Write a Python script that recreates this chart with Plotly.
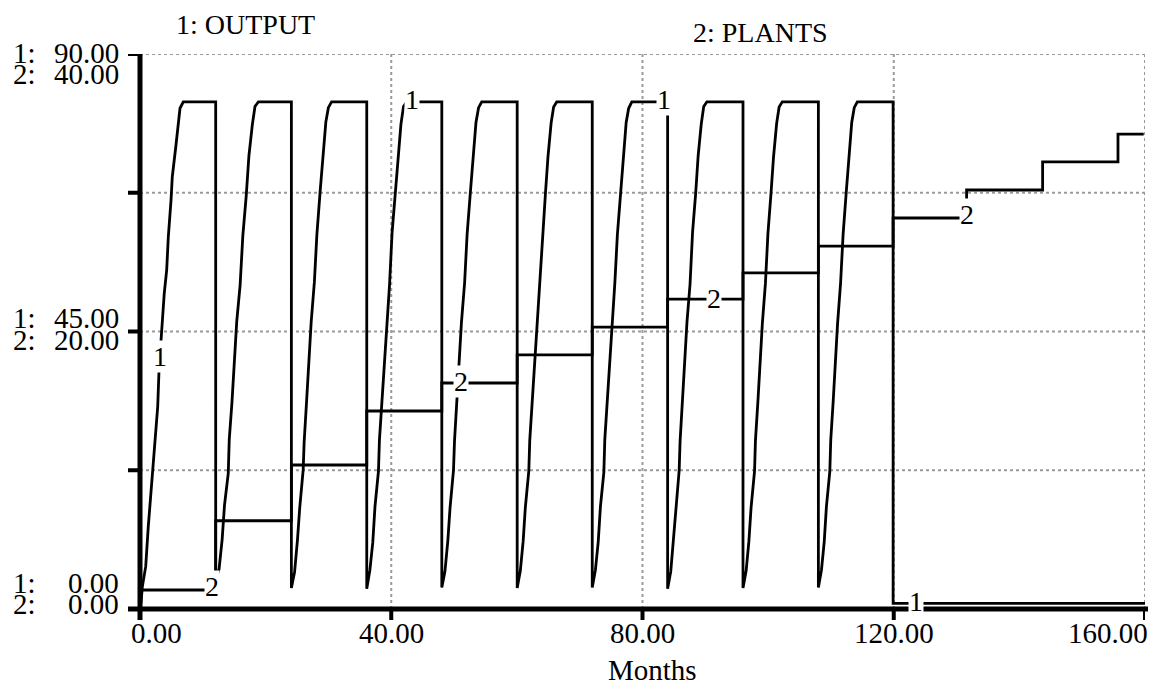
import plotly.graph_objects as go

# ---------------- data ----------------
month_ticks = [0, 40, 80, 120, 160]
month_tick_labels = ["0.00", "40.00", "80.00", "120.00", "160.00"]
output_axis_labels = ["0.00", "45.00", "90.00"]
plants_axis_labels = ["0.00", "20.00", "40.00"]

# OUTPUT: ramp of each production cycle (months, value)
cycle1_t = [0.0, 0.16, 0.37, 0.91, 1.32, 1.86, 2.28, 2.82, 3.03, 3.55, 3.86, 4.25, 4.51, 4.94, 5.14, 5.68, 6.10, 6.37, 6.89]
cycle1_v = [0.5, 1.0, 3.6, 6.9, 13.4, 20.9, 25.8, 32.8, 38.8, 46.4, 51.2, 55.0, 60.4, 66.3, 70.1, 74.8, 79.0, 81.2, 82.25]
cycle2_t = [12.05, 12.59, 13.08, 13.45, 14.05, 14.21, 14.64, 15.02, 15.40, 15.94, 16.37, 16.91, 17.34, 17.88, 18.31, 18.85]
cycle2_v = [4.5, 6.5, 11.3, 16.8, 22.0, 27.5, 33.5, 40.0, 46.6, 52.5, 60.5, 67.0, 73.5, 78.5, 81.5, 82.25]
cycle3_t = [24.10, 24.61, 25.07, 25.42, 25.98, 26.13, 26.54, 26.89, 27.25, 27.76, 28.16, 28.67, 29.08, 29.59, 29.99, 30.50]
cycle3_v = [3.4, 6.0, 11.2, 16.3, 22.6, 27.0, 34.0, 40.1, 46.5, 53.0, 60.7, 67.6, 73.0, 79.0, 81.3, 82.25]
cycle4_t = [36.10, 36.60, 37.06, 37.41, 37.96, 38.12, 38.52, 38.87, 39.22, 39.73, 40.13, 40.64, 41.04, 41.54, 41.95, 42.45]
cycle4_v = [3.3, 6.3, 10.8, 16.6, 22.3, 27.4, 33.6, 40.5, 46.2, 52.6, 61.0, 67.2, 73.4, 78.6, 81.5, 82.25]
cycle5_t = [48.05, 48.55, 49.01, 49.36, 49.91, 50.07, 50.47, 50.82, 51.17, 51.68, 52.08, 52.59, 52.99, 53.49, 53.90, 54.40]
cycle5_v = [3.5, 6.1, 11.1, 16.4, 22.5, 27.2, 33.9, 40.2, 46.4, 52.9, 60.8, 67.5, 73.2, 78.9, 81.3, 82.25]
cycle6_t = [60.05, 60.55, 61.00, 61.35, 61.90, 62.05, 62.45, 62.80, 63.15, 63.65, 64.05, 64.55, 64.95, 65.45, 65.85, 66.35]
cycle6_v = [3.4, 6.2, 11.0, 16.5, 22.4, 27.3, 33.8, 40.3, 46.3, 52.8, 60.9, 67.4, 73.3, 78.8, 81.4, 82.25]
cycle7_t = [72.00, 72.50, 72.95, 73.30, 73.85, 74.00, 74.40, 74.75, 75.10, 75.60, 76.00, 76.50, 76.90, 77.40, 77.80, 78.30]
cycle7_v = [3.5, 6.3, 10.9, 16.6, 22.2, 27.5, 33.7, 40.4, 46.1, 52.9, 60.7, 67.6, 73.1, 78.9, 81.2, 82.25]
cycle8_t = [84.00, 84.50, 84.94, 85.29, 85.84, 85.98, 86.38, 86.73, 87.08, 87.57, 87.97, 88.46, 88.86, 89.36, 89.75, 90.25]
cycle8_v = [3.3, 6.1, 11.2, 16.3, 22.5, 27.1, 34.0, 40.2, 46.5, 52.7, 61.1, 67.3, 73.5, 78.7, 81.5, 82.25]
cycle9_t = [96.00, 96.50, 96.94, 97.29, 97.84, 97.98, 98.38, 98.73, 99.08, 99.57, 99.97, 100.46, 100.86, 101.36, 101.75, 102.25]
cycle9_v = [3.4, 6.2, 11.0, 16.5, 22.4, 27.3, 33.8, 40.3, 46.3, 52.8, 60.9, 67.4, 73.3, 78.8, 81.4, 82.25]
cycle10_t = [108.00, 108.49, 108.93, 109.28, 109.82, 109.97, 110.36, 110.71, 111.05, 111.54, 111.94, 112.43, 112.82, 113.31, 113.71, 114.20]
cycle10_v = [3.5, 6.3, 10.9, 16.6, 22.3, 27.4, 33.7, 40.4, 46.2, 52.9, 60.8, 67.5, 73.2, 78.9, 81.3, 82.25]
# end of each plateau (output falls) and the idle tail after month 120
plateau_end_t = [12.05, 24.10, 36.10, 48.05, 60.05, 72.00, 84.00, 96.00, 108.00, 119.9]
plateau_v = 82.25
tail_t = [119.9, 160.0]
tail_v = [0.9, 0.9]

# PLANTS: step changes (month, plants)
plants_t = [0, 12.05, 24.1, 36.1, 48.05, 60.05, 72.0, 84.0, 96.0, 108.0, 119.9, 131.6, 143.7, 155.7, 159.8]
plants_v = [1.37, 6.36, 10.38, 14.27, 16.29, 18.31, 20.32, 22.34, 24.22, 26.16, 28.18, 30.2, 32.22, 34.23, 34.23]

# ---------------- build the output series ----------------
cycles_t = [cycle1_t, cycle2_t, cycle3_t, cycle4_t, cycle5_t, cycle6_t, cycle7_t, cycle8_t, cycle9_t, cycle10_t]
cycles_v = [cycle1_v, cycle2_v, cycle3_v, cycle4_v, cycle5_v, cycle6_v, cycle7_v, cycle8_v, cycle9_v, cycle10_v]
out_t, out_v = [], []
for ct, cv, te in zip(cycles_t, cycles_v, plateau_end_t):
    out_t += ct + [te]
    out_v += cv + [plateau_v]
out_t += tail_t
out_v += tail_v

# ---------------- geometry (page pixels; page body has an 8px margin) ----------------
OFF = 8
L, R, T, B = 140, 1145, 54, 609
W, H = 1159 - 2 * OFF, 694 - 2 * OFF
PW, PH = R - L, B - T

def px(x):
    return (x - L) / PW

def py(y):
    return (B - y) / PH

FONT = "Liberation Serif, Times New Roman, serif"
FS = 29

fig = go.Figure()
fig.add_trace(go.Scatter(x=out_t, y=out_v, mode="lines", line=dict(color="black", width=2.8),
                         name="OUTPUT", yaxis="y", showlegend=False, hoverinfo="skip"))
fig.add_trace(go.Scatter(x=plants_t, y=plants_v, mode="lines", line=dict(color="black", width=2.8, shape="hv"),
                         name="PLANTS", yaxis="y2", showlegend=False, hoverinfo="skip"))

shapes = []
# dotted grid + top / right border
for xv in month_ticks[1:]:
    shapes.append(dict(type="line", xref="x", yref="paper", x0=xv, x1=xv, y0=0, y1=1,
                       line=dict(color="#9a9a9a", width=2, dash="dot"), layer="below"))
for yv in [22.5, 45, 67.5, 90]:
    shapes.append(dict(type="line", xref="paper", yref="y", x0=0, x1=1, y0=yv, y1=yv,
                       line=dict(color="#9a9a9a", width=2, dash="dot"), layer="below"))
# solid axes
shapes.append(dict(type="line", xref="paper", yref="paper", x0=0, x1=0, y0=py(620), y1=1,
                   line=dict(color="black", width=5)))
shapes.append(dict(type="line", xref="paper", yref="paper", x0=px(128), x1=px(1148), y0=0, y1=0,
                   line=dict(color="black", width=5)))
for yv in [0, 22.5, 45, 67.5, 90]:
    shapes.append(dict(type="line", xref="paper", yref="y", x0=px(128), x1=0, y0=yv, y1=yv,
                       line=dict(color="black", width=4)))
for xv in month_ticks:
    shapes.append(dict(type="line", xref="x", yref="paper", x0=xv, x1=xv, y0=0, y1=py(620),
                       line=dict(color="black", width=4)))

ann = []
def text(s, x, y, xanchor="center", size=FS, xref="paper", yref="paper", bg=None):
    d = dict(text=s, x=x, y=y, xref=xref, yref=yref, xanchor=xanchor, yanchor="middle",
             showarrow=False, font=dict(family=FONT, size=size, color="black"))
    if bg:
        d.update(bgcolor=bg, borderpad=0)
    ann.append(d)

# titles
text("1: OUTPUT", px(245), py(24), size=28)
text("2: PLANTS", px(760), py(33), size=28)
# left scale labels
for (o_lab, p_lab, yc1, yc2) in [(output_axis_labels[2], plants_axis_labels[2], 53, 74),
                                  (output_axis_labels[1], plants_axis_labels[1], 318, 340),
                                  (output_axis_labels[0], plants_axis_labels[0], 583, 604)]:
    text("1:", px(11), py(yc1), xanchor="left")
    text(o_lab, px(121), py(yc1), xanchor="right")
    text("2:", px(11), py(yc2), xanchor="left")
    text(p_lab, px(121), py(yc2), xanchor="right")
# month tick labels
for xv, lab in zip(month_ticks, month_tick_labels):
    if xv == month_ticks[0]:
        text(lab, px(129), py(633), xanchor="left")
    elif xv == month_ticks[-1]:
        text(lab, px(1150), py(633), xanchor="right")
    else:
        text(lab, xv, py(633), xref="x")
text("Months", px(652), py(670))

# curve labels
text("1", 3.2, 41.0, xref="x", yref="y", bg="white", size=28)
text("1", 43.3, 82.7, xref="x", yref="y", bg="white", size=28)
text("1", 83.4, 82.7, xref="x", yref="y", bg="white", size=28)
text("1", 123.6, 1.2, xref="x", yref="y", bg="white", size=28)
text("2", 11.5, 1.6, xref="x", yref="y2", bg="white", size=28)
text("2", 51.1, 16.4, xref="x", yref="y2", bg="white", size=28)
text("2", 91.4, 22.4, xref="x", yref="y2", bg="white", size=28)
text("2", 131.7, 28.4, xref="x", yref="y2", bg="white", size=28)

fig.update_layout(
    width=W, height=H,
    margin=dict(l=L - OFF, r=W + OFF - R, t=T - OFF, b=H + OFF - B, pad=0),
    paper_bgcolor="white", plot_bgcolor="white",
    xaxis=dict(range=[0, 160], showgrid=False, zeroline=False, showline=False,
               showticklabels=False, ticks=""),
    yaxis=dict(range=[0, 90], showgrid=False, zeroline=False, showline=False,
               showticklabels=False, ticks=""),
    yaxis2=dict(range=[0, 40], overlaying="y", showgrid=False, zeroline=False, showline=False,
                showticklabels=False, ticks=""),
    shapes=shapes, annotations=ann, showlegend=False,
)
fig.write_html("out.html")
